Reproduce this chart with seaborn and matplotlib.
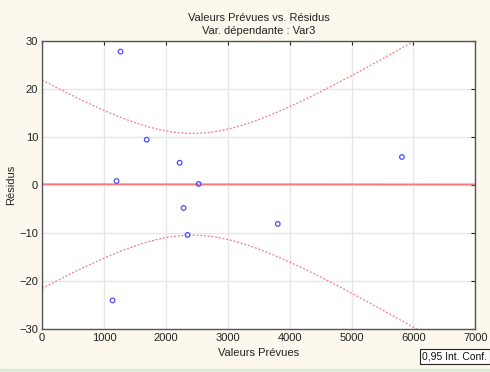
import numpy as np
import pandas as pd
import matplotlib
matplotlib.use("Agg")
import matplotlib.pyplot as plt
import seaborn as sns

# values
predicted = [1267, 1690, 1202, 2222, 2530, 2286, 2350, 1138, 3808, 5814]
residuals = [27.7, 9.4, 0.8, 4.6, 0.2, -4.8, -10.4, -24.0, -8.1, 5.8]
x_ticks = [0, 1000, 2000, 3000, 4000, 5000, 6000, 7000]
y_ticks = [-30, -20, -10, 0, 10, 20, 30]
T_CRIT = 2.306  # t(0.975, n-2) for n = 10

df = pd.DataFrame({"pred": predicted, "res": residuals})

# regression of residuals on predicted + 95% confidence band of the fit
x = df["pred"].to_numpy()
y = df["res"].to_numpy()
n = len(x)
slope, icpt = np.polyfit(x, y, 1)
s = np.sqrt(np.sum((y - (icpt + slope * x)) ** 2) / (n - 2))
sxx = np.sum((x - x.mean()) ** 2)
xs = np.linspace(0, 7000, 300)
fit = icpt + slope * xs
half = T_CRIT * s * np.sqrt(1 / n + (xs - x.mean()) ** 2 / sxx)

sns.set_style("white")
plt.rcParams["font.family"] = ["Liberation Sans", "DejaVu Sans"]

fig = plt.figure(figsize=(4.9, 3.72), dpi=100, facecolor="#fcf8ee")
ax = fig.add_axes([0.086, 0.115, 0.884, 0.776])
ax.set_facecolor("white")

red = "#f27b7b"
sns.lineplot(x=xs, y=fit, ax=ax, color=red, lw=1.3)
sns.lineplot(x=xs, y=fit + half, ax=ax, color=red, lw=0.9, linestyle=(0, (1.5, 1.5)))
sns.lineplot(x=xs, y=fit - half, ax=ax, color=red, lw=0.9, linestyle=(0, (1.5, 1.5)))
sns.scatterplot(data=df, x="pred", y="res", ax=ax, marker="o", s=11,
                facecolor="none", edgecolor="#4b4bff", linewidth=0.9, zorder=5)

ax.set_xlim(0, 7000)
ax.set_ylim(-30, 30)
ax.set_xticks(x_ticks)
ax.set_yticks(y_ticks)
ax.grid(True, color="#e6e6e6", lw=1.0)
ax.set_axisbelow(True)
for sp in ax.spines.values():
    sp.set_color("#555555")
    sp.set_linewidth(1.0)
ax.tick_params(axis="both", labelsize=8, colors="#222222", length=3,
               direction="in", top=True, right=True, pad=3)

ax.set_xlabel("Valeurs Prévues", fontsize=8, color="#222222", labelpad=3)
ax.set_ylabel("Résidus", fontsize=8, color="#222222", labelpad=2)
ax.set_title("Valeurs Prévues vs. Résidus\nVar. dépendante : Var3",
             fontsize=8, color="#222222", pad=5, linespacing=1.3)

fig.text(0.862, 0.033, "0,95 Int. Conf.", fontsize=7.5, color="#111111",
         bbox=dict(boxstyle="square,pad=0.25", fc="white", ec="#222222", lw=0.8))
fig.patches.append(plt.Rectangle((0, 0), 1, 0.008, transform=fig.transFigure,
                                 color="#d9ead9", zorder=0))

fig.savefig("out.png", dpi=100, facecolor=fig.get_facecolor())
